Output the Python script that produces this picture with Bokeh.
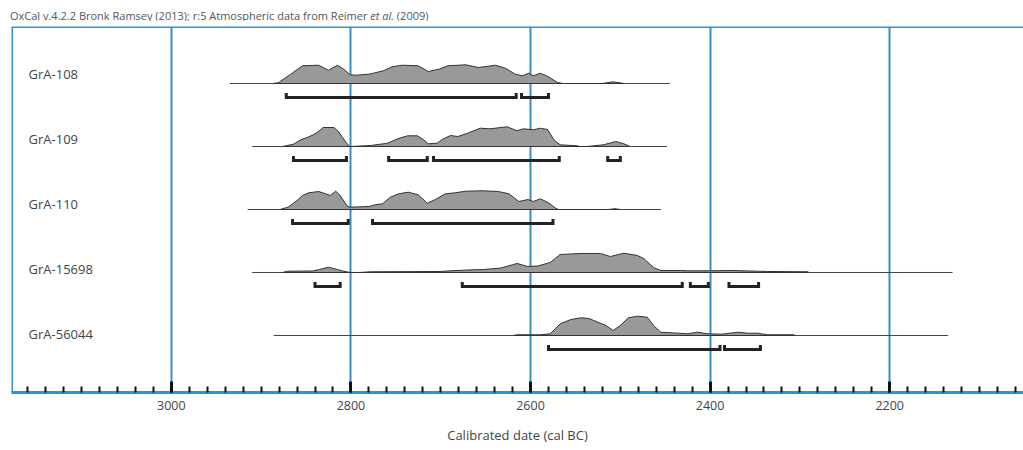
from bokeh.plotting import figure
from bokeh.models import Div, Range1d, FixedTicker, Span, ColumnDataSource
from bokeh.layouts import column
from bokeh.core.properties import value
from bokeh.embed import file_html
from bokeh.resources import INLINE

# ---------------- data (years cal BC, relative probability) ----------------
samples = ["GrA-108", "GrA-109", "GrA-110", "GrA-15698", "GrA-56044"]

# extent of the calibration curve line for each sample
range_start = [2935, 2910, 2915, 2910, 2886]
range_end = [2445, 2448, 2455, 2130, 2135]

gra108_years = [2887, 2881, 2867, 2854, 2836, 2825, 2815, 2808, 2801, 2795, 2780, 2775,
                2764, 2754, 2743, 2725, 2714, 2702, 2692, 2672, 2658, 2639, 2628, 2617,
                2609, 2602, 2597, 2589, 2580, 2570, 2564, 2520, 2508, 2496]
gra108_prob = [0, 0.7, 9.3, 17.7, 18.3, 13.3, 18.3, 14.3, 8.7, 8.3, 9.3, 10.3,
               12.7, 16.7, 18.3, 17.7, 12, 14.3, 17.7, 18.7, 16, 18.3, 15.3, 9.3,
               7.7, 10.3, 7.7, 10.3, 6.7, 1, 0, 0, 1.7, 0]

gra109_years = [2876, 2864, 2856, 2848, 2842, 2836, 2831, 2819, 2814, 2809, 2804, 2801,
                2778, 2759, 2748, 2737, 2726, 2719, 2714, 2704, 2697, 2689, 2681, 2670,
                2656, 2645, 2633, 2626, 2615, 2608, 2597, 2589, 2581, 2574, 2567, 2548,
                2545, 2537, 2519, 2505, 2496, 2489]
gra109_prob = [0, 2.3, 6.7, 9.3, 11.7, 15, 19, 19, 15, 8.7, 2.3, 0,
               1, 3.3, 7.7, 10.7, 10.7, 6.7, 2.7, 3.3, 7.7, 11, 10, 13.3,
               18.3, 17.7, 19, 19.7, 15.7, 17.7, 16.7, 18.3, 17, 6.7, 1.7, 0.7,
               0, 0, 1.7, 5, 2.7, 0]

gra110_years = [2879, 2870, 2860, 2854, 2847, 2836, 2828, 2823, 2817, 2812, 2804, 2801,
                2780, 2773, 2765, 2756, 2747, 2736, 2725, 2715, 2706, 2695, 2684, 2672,
                2653, 2636, 2624, 2613, 2603, 2597, 2589, 2580, 2572, 2569, 2513, 2506,
                2500]
gra110_prob = [0, 2.3, 9, 14, 16.7, 18, 15.7, 14, 18.3, 14, 3.3, 2.3,
               3, 4.7, 5.7, 12.3, 15.7, 17.3, 14.7, 6.3, 10, 15.7, 16.7, 18.3,
               18.7, 18, 15.7, 8, 10, 8, 10.7, 6.7, 1.3, 0, 0, 0.8,
               0]

gra15698_years = [2876, 2871, 2843, 2835, 2825, 2815, 2808, 2801, 2790, 2778, 2700, 2689,
                  2670, 2652, 2633, 2619, 2615, 2603, 2592, 2578, 2567, 2544, 2522, 2511,
                  2496, 2481, 2474, 2463, 2455, 2433, 2425, 2399, 2377, 2347, 2336, 2291,
                  2290]
gra15698_prob = [0, 1.3, 1.5, 3, 5.3, 3, 1.3, 0, 0, 0.7, 1, 1.7,
                 2.5, 3, 4.5, 8, 9, 6, 6.5, 10, 18, 19, 19, 16,
                 19.3, 17, 14, 5, 2, 2, 1.7, 1.7, 2, 1.3, 1, 0.7,
                 0]

gra56044_years = [2619, 2615, 2589, 2578, 2567, 2555, 2544, 2535, 2525, 2516, 2508, 2500,
                  2491, 2481, 2470, 2463, 2455, 2436, 2425, 2414, 2403, 2388, 2369, 2358,
                  2347, 2336, 2307, 2305]
gra56044_prob = [0, 0.7, 0.7, 1.7, 11.7, 16, 17.7, 17, 13.3, 10, 5, 10,
                 17.7, 19.3, 18.3, 10, 3.3, 2.3, 1.7, 3.3, 1.7, 1.3, 3.3, 2.3,
                 2.3, 0.7, 0.7, 0]

dist_years = [gra108_years, gra109_years, gra110_years, gra15698_years, gra56044_years]
dist_prob = [gra108_prob, gra109_prob, gra110_prob, gra15698_prob, gra56044_prob]

# 95.4% probability ranges (start, end) in cal BC
gra108_ranges = [(2872, 2616), (2610, 2580)]
gra109_ranges = [(2864, 2805), (2758, 2715), (2708, 2568), (2514, 2500)]
gra110_ranges = [(2865, 2803), (2776, 2575)]
gra15698_ranges = [(2840, 2812), (2676, 2431), (2422, 2402), (2379, 2346)]
gra56044_ranges = [(2580, 2389), (2384, 2344)]
hpd_ranges = [gra108_ranges, gra109_ranges, gra110_ranges, gra15698_ranges, gra56044_ranges]

major_ticks = [3200, 3000, 2800, 2600, 2400, 2200, 2000]

title_html = ("OxCal v.4.2.2 Bronk Ramsey (2013); r:5 Atmospheric data from Reimer "
              "<i>et al.</i> (2009)")
x_label = "Calibrated date (cal BC)"

# ---------------- styling / layout constants ----------------
BLUE_FRAME = "#2b95d3"
BLUE_GRID = "#3490c4"
ROW_PX = 63.0          # pixels per row unit
DIST_SCALE = 1.0 / ROW_PX
BRACKET_OFF = 14.0 / ROW_PX
BRACKET_TICK = 4.5 / ROW_PX
LABEL_X = 3159
FONT = "Open Sans"

p = figure(width=1023, height=430,
           x_range=Range1d(3178, 2051), y_range=Range1d(-4.905, 0.905),
           output_backend="svg", toolbar_location=None, y_axis_location=None,
           min_border_left=11, min_border_right=0, min_border_top=6, min_border_bottom=58)
p.outline_line_color = None
p.background_fill_color = "white"
p.border_fill_color = "white"

ticker = FixedTicker(ticks=major_ticks, minor_ticks=list(range(2000, 3201, 20)))
p.xaxis.ticker = ticker
p.xgrid.ticker = ticker
p.xgrid.grid_line_color = BLUE_GRID
p.xgrid.grid_line_width = 2
p.ygrid.grid_line_color = None

ax = p.xaxis[0]
ax.axis_line_color = BLUE_FRAME
ax.axis_line_width = 3
ax.major_tick_in = 11
ax.major_tick_out = 0
ax.major_tick_line_width = 3
ax.major_tick_line_color = "#111111"
ax.minor_tick_in = 6
ax.minor_tick_out = 0
ax.minor_tick_line_width = 2
ax.minor_tick_line_color = "#111111"
ax.major_label_text_font = FONT
ax.major_label_text_font_size = "12.5px"
ax.major_label_text_color = "#444444"
ax.major_label_standoff = 8
ax.axis_label = x_label
ax.axis_label_text_font = FONT
ax.axis_label_text_font_size = "13px"
ax.axis_label_text_font_style = "normal"
ax.axis_label_text_color = "#444444"
ax.axis_label_standoff = 13

# frame borders (top and left)
p.add_layout(Span(location=p.y_range.end, dimension="width",
                  line_color=BLUE_FRAME, line_width=3))
p.add_layout(Span(location=p.x_range.start, dimension="height",
                  line_color=BLUE_FRAME, line_width=3))

# baselines
base_xs, base_ys = [], []
for i in range(len(samples)):
    base_xs.append([range_start[i], range_end[i]])
    base_ys.append([-i, -i])
p.multi_line(base_xs, base_ys, line_color="#444444", line_width=1)

# probability distributions
pxs, pys = [], []
for i in range(len(samples)):
    pxs.append(list(dist_years[i]))
    pys.append([-i + v * DIST_SCALE for v in dist_prob[i]])
p.patches(pxs, pys, fill_color="#999999", line_color="#333333", line_width=1)

# range brackets
bxs, bys = [], []
for i, rngs in enumerate(hpd_ranges):
    yb = -i - BRACKET_OFF
    for (a, b) in rngs:
        bxs.append([a, a, b, b])
        bys.append([yb + BRACKET_TICK, yb, yb, yb + BRACKET_TICK])
p.multi_line(bxs, bys, line_color="#222222", line_width=3, line_join="miter", line_cap="butt")

# sample names
label_src = ColumnDataSource(dict(
    x=[LABEL_X] * len(samples),
    y=[-i + (10 - 2.2 * i) / ROW_PX for i in range(len(samples))],
    t=samples))
p.text(x="x", y="y", text="t", source=label_src, text_font=value(FONT),
       text_font_size="13px", text_color="#444444", text_baseline="middle", text_align="left")

title = Div(text='<div style="font-family:\'Open Sans\';font-size:11px;line-height:12px;'
                 'color:#555555;white-space:nowrap">' + title_html + '</div>',
            width=1000, height=12, margin=(8, 0, 0, 10))

layout = column(title, p, spacing=0)
open("out.html", "w").write(file_html(layout, INLINE))
